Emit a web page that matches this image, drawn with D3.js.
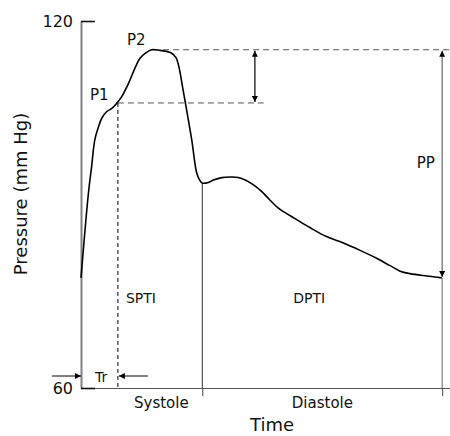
<!DOCTYPE html>
<html><head><meta charset="utf-8">
<script src="https://cdn.jsdelivr.net/npm/d3@7"></script>
<style>
body{margin:0;background:#fff}
svg{display:block}
text{font-family:"DejaVu Sans",sans-serif;fill:#111}
</style>
</head><body>
<svg id="chart" width="450" height="436"></svg>
<script>
// ---- data (time in ms, pressure in mm Hg) ----
const timeMs = [0,16,23,30,38,45,56,67,77,88,103,117,128,139,153,171,195,206,212,220,240,251,258,263,276,287,305,327,341,356,374,392,410,428,446,464,497,531,569,605,641,670,692,713,750,782];
const pressure = [78.0,91.8,96.2,100.6,102.7,104.1,105.2,105.7,106.5,107.6,109.8,112.3,113.9,114.7,115.3,115.2,114.8,114.0,112.6,109.3,100.6,95.1,93.9,93.5,93.6,94.0,94.4,94.5,94.4,94.0,93.2,92.1,90.7,89.4,88.5,87.7,86.2,84.8,83.7,82.5,81.2,80.0,79.1,78.7,78.3,78.0];
const yTickValues = [60,120];
const phaseTimes = [263,783];            // end of systole, end of diastole
const phaseNames = ["Systole","Diastole"];
const areaNames = ["SPTI","DPTI"];
const peakNames = ["P1","P2"];
const peakTimes = [80,153];
const peakPressures = [106.6,115.3];
const pulseMin = 78.0;
const trTime = 80;

const W = 450, H = 436;
const svg = d3.select("#chart");
const x = d3.scaleLinear().domain([0,800]).range([81,450]);
const y = d3.scaleLinear().domain([60,120]).range([388,21]);

// arrow markers
const defs = svg.append("defs");
defs.append("marker").attr("id","arr").attr("viewBox","0 0 10 10")
  .attr("refX",10).attr("refY",5).attr("markerWidth",10).attr("markerHeight",6)
  .attr("markerUnits","userSpaceOnUse").attr("orient","auto-start-reverse")
  .append("path").attr("d","M0,0L10,5L0,10Z").attr("fill","#000");

// x axis (with phase tick marks below)
const xAxis = svg.append("g").attr("transform",`translate(0,${y(60)})`)
  .call(d3.axisBottom(x).tickValues(phaseTimes).tickSizeInner(8).tickSizeOuter(0).tickFormat(""));
xAxis.select(".domain").attr("stroke","#555").attr("stroke-width",1.2);
xAxis.selectAll(".tick line").attr("stroke","#444").attr("stroke-width",1);

// y axis
const yAxis = svg.append("g").attr("transform",`translate(${x(0)},0)`)
  .call(d3.axisLeft(y).tickValues(yTickValues).tickSizeInner(-14).tickSizeOuter(0).tickPadding(8));
yAxis.select(".domain").attr("stroke","#808080").attr("stroke-width",2);
yAxis.selectAll(".tick line").attr("stroke","#111").attr("stroke-width",1.6);
yAxis.selectAll(".tick text").attr("font-size",16).attr("font-family","DejaVu Sans").attr("fill","#111");

// vertical phase lines
svg.append("line").attr("x1",x(phaseTimes[0])).attr("x2",x(phaseTimes[0]))
  .attr("y1",y(93.5)).attr("y2",y(60)).attr("stroke","#333").attr("stroke-width",1);
svg.append("line").attr("x1",x(phaseTimes[1])).attr("x2",x(phaseTimes[1]))
  .attr("y1",y(pulseMin)).attr("y2",y(60)).attr("stroke","#666").attr("stroke-width",1);

// dashed reference lines
svg.append("line").attr("x1",x(178)).attr("x2",W).attr("y1",y(peakPressures[1])).attr("y2",y(peakPressures[1]))
  .attr("stroke","#555").attr("stroke-width",1).attr("stroke-dasharray","6,4");
svg.append("line").attr("x1",x(peakTimes[0])).attr("x2",x(396)).attr("y1",y(peakPressures[0])).attr("y2",y(peakPressures[0]))
  .attr("stroke","#555").attr("stroke-width",1).attr("stroke-dasharray","6,4");
svg.append("line").attr("x1",x(trTime)).attr("x2",x(trTime)).attr("y1",y(peakPressures[0])).attr("y2",y(60))
  .attr("stroke","#000").attr("stroke-width",1).attr("stroke-dasharray","4,3");

// double arrow P1-P2
svg.append("line").attr("x1",x(377)).attr("x2",x(377)).attr("y1",y(peakPressures[1])+1).attr("y2",y(peakPressures[0])-1)
  .attr("stroke","#000").attr("stroke-width",1.2)
  .attr("marker-start","url(#arr)").attr("marker-end","url(#arr)");
// PP arrow
svg.append("line").attr("x1",x(783)).attr("x2",x(783)).attr("y1",y(peakPressures[1])+1).attr("y2",y(pulseMin)-1)
  .attr("stroke","#666").attr("stroke-width",1.2)
  .attr("marker-start","url(#arr)").attr("marker-end","url(#arr)");

// Tr arrows
const trY = y(60) - 12;
svg.append("line").attr("x1",x(-63)).attr("x2",x(0)).attr("y1",trY).attr("y2",trY)
  .attr("stroke","#000").attr("stroke-width",1).attr("marker-end","url(#arr)");
svg.append("line").attr("x1",x(145)).attr("x2",x(trTime)+1).attr("y1",trY).attr("y2",trY)
  .attr("stroke","#000").attr("stroke-width",1).attr("marker-end","url(#arr)");

// pressure curve
const pts = timeMs.map((t,i)=>[t,pressure[i]]);
svg.append("path").datum(pts)
  .attr("d",d3.line().x(d=>x(d[0])).y(d=>y(d[1])).curve(d3.curveCatmullRom.alpha(0.5)))
  .attr("fill","none").attr("stroke","#000").attr("stroke-width",1.6);

// labels
function label(txt,px,py,size,anchor){
  return svg.append("text").attr("x",px).attr("y",py).attr("font-size",size)
    .attr("text-anchor",anchor||"start").text(txt);
}
label(peakNames[0], x(peakTimes[0])-28, y(peakPressures[0])-2.5, 15);
label(peakNames[1], x(peakTimes[1])-24.5, y(peakPressures[1])-5, 15);
label(areaNames[0], x(trTime)+8, y(pulseMin)+25, 14);
label(areaNames[1], x(phaseTimes[0])+91, y(pulseMin)+25, 14);
label("PP", x(phaseTimes[1])-25.5, 167.7, 15);
label("Tr", x(0)+14, y(60)-6.3, 14);
label(phaseNames[0], x(0)+53, y(60)+19.7, 15);
label(phaseNames[1], x(phaseTimes[0])+89.5, y(60)+19.7, 15);
label("Time", 250, 431, 18);
svg.append("text").attr("transform","translate(27,194) rotate(-90)")
  .attr("text-anchor","middle").attr("font-size",18).text("Pressure (mm Hg)");
</script>
</body></html>
